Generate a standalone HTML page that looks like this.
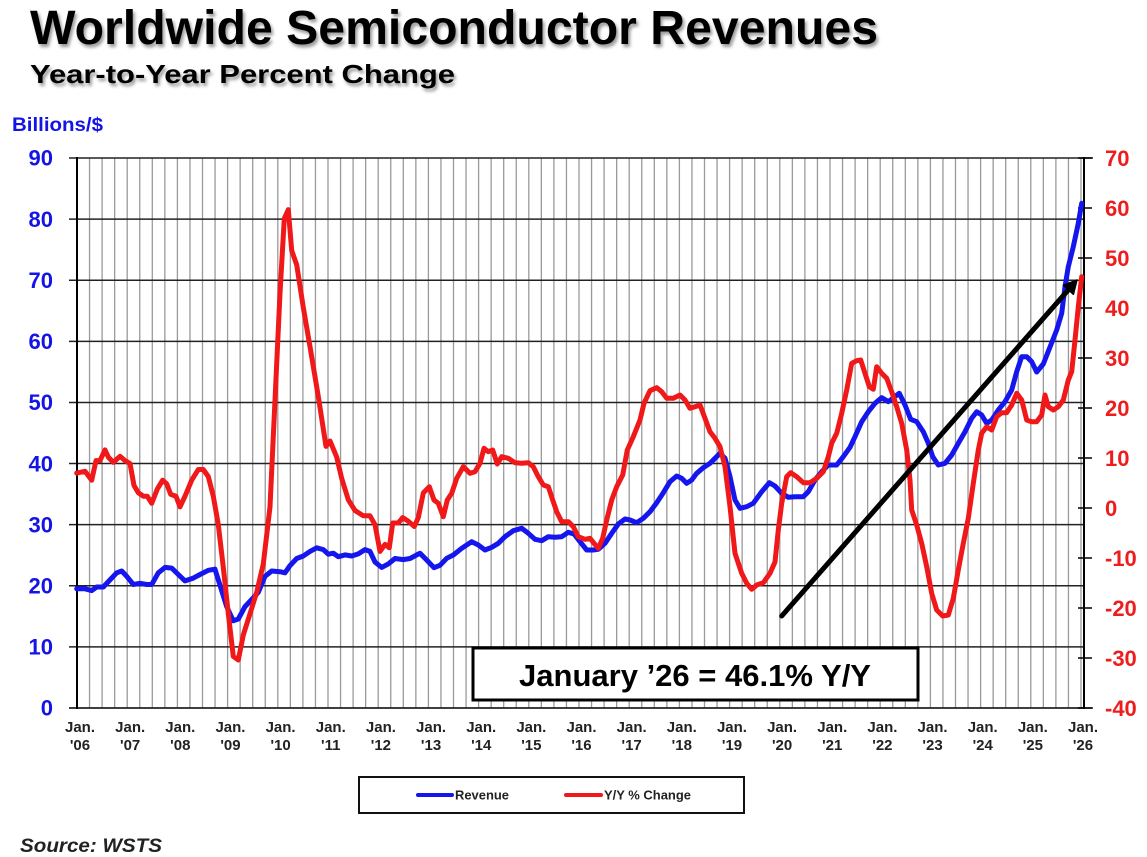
<!DOCTYPE html>
<html><head><meta charset="utf-8"><style>
html,body{margin:0;padding:0;background:#fff;}
svg{display:block;}
text{font-family:"Liberation Sans",Arial,sans-serif;font-weight:bold;}
</style></head><body>
<svg width="1147" height="857" viewBox="0 0 1147 857" xmlns="http://www.w3.org/2000/svg">
<defs>
<filter id="sh" x="-5%" y="-30%" width="110%" height="160%">
<feDropShadow dx="2" dy="3" stdDeviation="1.6" flood-color="#000" flood-opacity="0.4"/>
</filter>
</defs>
<rect width="1147" height="857" fill="#fff"/>
<text x="30" y="44" font-size="48" fill="#000" textLength="848" lengthAdjust="spacingAndGlyphs" filter="url(#sh)">Worldwide Semiconductor Revenues</text>
<text x="30" y="83" font-size="26" fill="#000" textLength="425" lengthAdjust="spacingAndGlyphs" filter="url(#sh)">Year-to-Year Percent Change</text>
<text x="12" y="131" font-size="19.5" fill="#1414e6" textLength="91" lengthAdjust="spacingAndGlyphs">Billions/$</text>

<g id="vgrid" stroke="#9a9a9a" stroke-width="1.3"></g>
<g id="hgrid" stroke="#222" stroke-width="1.5"></g>
<line x1="77" y1="157" x2="77" y2="709" stroke="#000" stroke-width="2"/>
<line x1="1084" y1="157" x2="1084" y2="709" stroke="#000" stroke-width="2"/>
<g id="rticks" stroke="#000" stroke-width="1.5"></g>
<g id="llab" font-size="22" fill="#1414e6" text-anchor="end"></g>
<g id="rlab" font-size="22" fill="#ee1c1c"></g>
<g id="xlab" font-size="15" fill="#222" text-anchor="middle"></g>

<rect x="473" y="648" width="445" height="52" fill="#fff" stroke="#000" stroke-width="3"/>
<text x="695" y="686" font-size="31" fill="#000" text-anchor="middle" textLength="352" lengthAdjust="spacingAndGlyphs">January ’26 = 46.1% Y/Y</text>

<polyline fill="none" stroke="#1515ee" stroke-width="5" stroke-linejoin="round" stroke-linecap="round" points="76.7,588.8 85,588.8 91.7,590.6 96.7,587 103.3,587 110,579.9 116.7,572.8 121.7,571 126.7,576.3 133.3,584.5 140,583.4 146.7,584.5 151.7,584.5 158.3,572.8 165,567.4 171.7,568.1 178.3,574.5 185,580.9 193.3,578.1 200,574.5 208.3,570.3 215,569.2 220,585.2 226.7,606.6 233.3,620.8 238.3,619 245,606.6 251.7,599.5 258.3,592.3 265,576.3 271.7,571 280,571.7 285,572.8 290,565.6 296.7,558.5 303.3,556 310,551.4 316.7,547.8 323.3,549.6 328.3,554.2 333.3,553.2 338.3,556.7 345,554.9 351.7,556 358.3,553.9 365,549.6 370,551.4 375,562.1 381.7,567.4 388.3,563.9 395,558.5 403.3,559.6 410,558.5 416.7,554.9 420,553.3 426.7,560 434,567.7 440,565.3 446.7,558.3 453.3,555 461.7,548.3 471.7,541.7 478.3,545 485,550 491.7,547.3 498.3,543.3 505,536.7 513.3,530.7 521.7,528.3 528.3,533.3 535,539.3 541.7,540.7 548.3,536.7 555,537.3 561.7,536.7 568.3,532.3 574,534 580,541.7 586.7,550 593.3,550 598.3,549.3 605,543.3 611.7,533.3 618.3,524 625,519 630,520 636.7,522.7 643.3,518.3 650,511.7 656.7,502.7 663.3,492.7 670,481.7 676.7,476 681.7,478.3 686.7,483.3 691.7,480 696.7,473.3 703.3,467.7 710,463.3 715,458.3 720,453.3 725,458.3 730,476.7 735,500 740,508.3 746.7,506.7 753.3,503.3 761.7,491.7 769.3,482.7 775,486 781.7,493.3 788.3,497.3 795,496.7 803.3,496.7 808.3,491.7 815,480 821.7,471.7 828.3,465 836.7,465 843.3,456.7 850,447.3 855,436.7 861.7,421.7 868.3,411.7 875,403.3 881.7,397.7 888.3,401.7 894,397.3 899.3,393.3 905,405 910.7,419.3 916.7,421.7 923.3,431.7 928.3,443.3 932.7,456.7 938.3,465 945,463.3 951.7,455 958.3,443.3 965,431.7 971.7,418.3 976.7,411.7 981.7,415 986.7,423.3 991.7,420 998.3,410 1005,401.7 1011.7,390 1016.7,371.7 1021.7,356.7 1026.7,356.7 1031.7,361.7 1036.7,372 1043.3,364 1050,347 1056.7,330 1061.7,313.3 1065,286.7 1068.3,266.7 1073.3,246.7 1078.3,223.3 1081.7,203.3"/>

<polyline fill="none" stroke="#f01818" stroke-width="5" stroke-linejoin="round" stroke-linecap="round" points="76.7,473.1 85,471.3 91.7,480.2 96,460.6 100,460.6 105,449.9 108.3,457.1 113.3,462.4 120,456.3 125,460.6 130,463.5 134,485.5 138.3,492.7 143.3,496.2 147.3,496.2 151.7,503.3 157.3,489.1 162.7,480.2 166.7,483.8 170.7,494.4 176,496.2 180,506.9 185,496.2 191.7,480.2 198.3,469.5 203.3,469.5 208.3,476.6 213.3,496.2 218.3,524.7 223.3,567.4 228.3,613.7 233.3,656.4 238.3,660 243.3,635 250,613.7 256.7,592.3 263.3,563.9 270,506.9 275,400.1 280,293.3 284.3,218.5 288.3,209.6 291.7,250.6 296.7,264.8 303.3,307.5 310,346.7 318.3,396.5 326,446.4 330,441 336.7,457.1 341.7,478.4 348.3,499.8 355,510.5 363.3,515.8 370,515.8 375,524.7 380,551.4 385,544.3 389.3,547.8 392.7,523 398.3,523 402.7,517.6 408.3,521.2 414.3,526.5 418.3,517.6 423.3,493 429.3,486.7 434,500 438.3,503.3 443.3,516.7 447.3,500 451.7,493.3 456.7,478.3 463.3,466.7 470,473.3 475,471.7 480,463.3 484,448.3 488.3,451.7 492.7,450 497.3,464 501.7,456.7 508.3,458.3 515,462.7 521.7,463.3 528.3,462.7 533.3,466.7 538.3,476.7 543.3,485 548.3,486.7 552.7,500 556.7,511.7 561.7,521.7 568.3,521.7 573.3,526.7 578.3,536.7 585,539.3 590,538.3 594,543.3 598.3,548.3 602.7,538.3 606.7,520 611.7,500 616.7,486.7 622.7,475 627.3,450 633.3,436.7 640,420 644,403.3 650,390.7 656.7,387.7 661.7,391.7 666.7,398.3 673.3,398.3 680,395 685,400 690,408.3 695,406.7 700,405 705,418.3 710,431.7 715,438.3 720,446.7 725,466.7 730,506.7 735,553.3 741.7,573.3 746.7,583.3 751.7,589.3 756.7,585 763.3,582.7 770,573.3 775,562 778.3,530 781.7,503.3 786.7,476.7 790.7,472.7 796.7,476.7 803.3,482.7 810,482.7 816.7,478.3 823.3,471.7 828.3,456.7 831.7,443.3 836.7,433.3 841.7,413.3 846.7,390 851.7,363.3 856.7,360.7 860.7,360 865,373.3 869.3,386.7 873.3,389.3 876.7,366.7 881.7,373.3 886.7,378.3 891.7,391.7 896.7,406.7 901.7,423.3 906.7,450 910,480 911.7,510 916.7,525 921.7,543.3 926.7,566.7 931.7,593.3 936.7,610 942.7,616 948.3,615 953.3,598.3 958.3,570 963.3,543.3 968.3,518.3 973.3,483.3 978.3,450 981.7,433.3 986.7,426.7 991.7,430 996.7,416.7 1001.7,412.7 1006.7,412.7 1011.7,405 1016.7,393.3 1021.7,400 1026.7,420 1031.7,421.7 1036.7,421.7 1041.7,415 1045,395 1048.3,406.7 1053.3,410 1058.3,406.7 1063.3,400 1068.3,380 1071.7,371.7 1075,340 1078.3,306.7 1081.7,276.7"/>

<line x1="781.7" y1="616" x2="1068.4" y2="289.8" stroke="#000" stroke-width="5" stroke-linecap="round"/>
<polygon points="1077,280 1073.4,294.3 1063.4,285.3" fill="#000" stroke="#000" stroke-width="1.5" stroke-linejoin="round"/>

<rect x="359" y="777" width="385" height="36" fill="#fff" stroke="#111" stroke-width="2"/>
<line x1="418" y1="795" x2="452" y2="795" stroke="#1515ee" stroke-width="4" stroke-linecap="round"/>
<text x="455" y="799.5" font-size="12.5" fill="#222" textLength="54" lengthAdjust="spacingAndGlyphs">Revenue</text>
<line x1="566" y1="795" x2="601" y2="795" stroke="#f01818" stroke-width="4" stroke-linecap="round"/>
<text x="604" y="799.5" font-size="12.5" fill="#222" textLength="87" lengthAdjust="spacingAndGlyphs">Y/Y % Change</text>

<text x="20" y="852" font-size="19" font-style="italic" fill="#222" textLength="142" lengthAdjust="spacingAndGlyphs">Source: WSTS</text>

<script>
(function(){
var ns="http://www.w3.org/2000/svg";
function el(p,t,a,txt){var e=document.createElementNS(ns,t);for(var k in a)e.setAttribute(k,a[k]);if(txt!==undefined)e.textContent=txt;document.getElementById(p).appendChild(e);}
for(var k=1;k<=80;k++){var x=77+12.55*k;el("vgrid","line",{x1:x,y1:158,x2:x,y2:708});}
for(var k=0;k<=9;k++){var y=708-61.11*k;el("hgrid","line",{x1:69,y1:y,x2:(k==9?1093:1084),y2:y});el("llab","text",{x:53,y:y+7.7},String(k*10));}
el("hgrid","line",{x1:69,y1:708,x2:1093,y2:708});
for(var k=0;k<=11;k++){var y=158+50*k;el("rticks","line",{x1:1078,y1:y,x2:1092,y2:y});el("rlab","text",{x:1105,y:y+8},String(70-10*k));}
for(var k=0;k<=20;k++){var x=80+50.15*k;var yr=(6+k);var s=(yr<10?"0":"")+yr;el("xlab","text",{x:x,y:732},"Jan.");el("xlab","text",{x:x,y:750},"'"+s);}
})();
</script>
</svg>
</body></html>
